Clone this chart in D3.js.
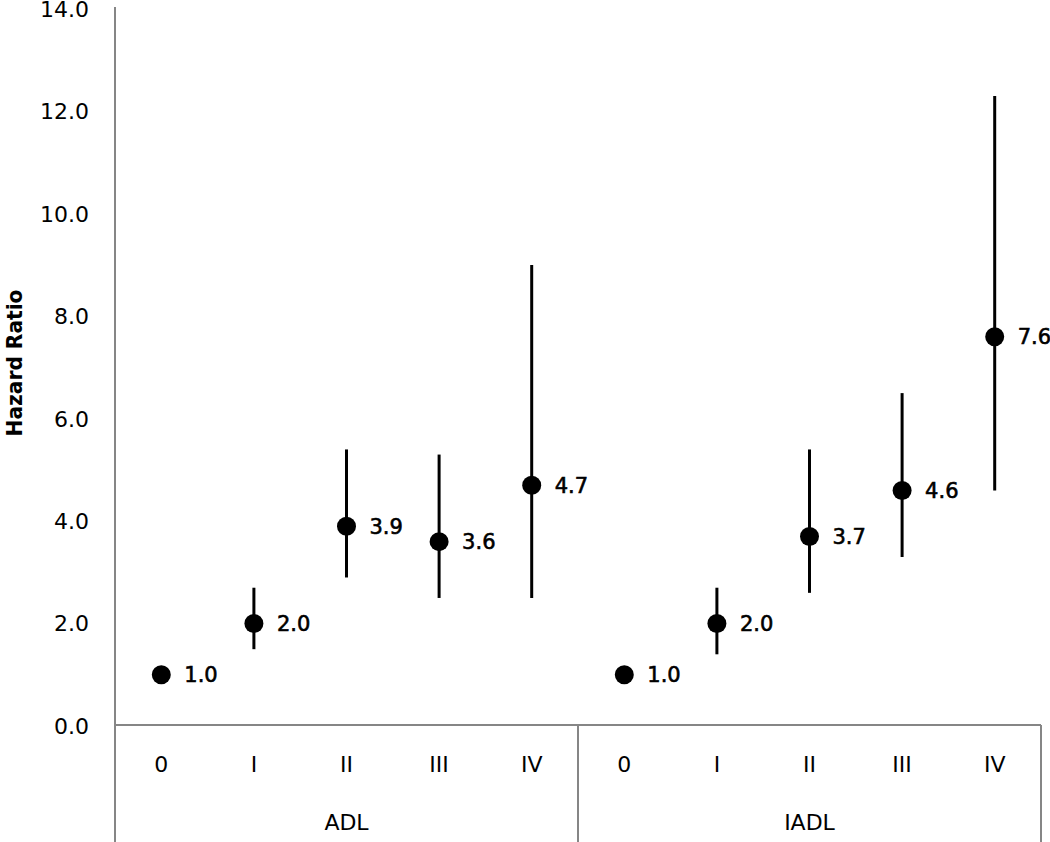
<!DOCTYPE html>
<html>
<head>
<meta charset="utf-8">
<script src="https://cdn.jsdelivr.net/npm/d3@7"></script>
<style>
  body { margin: 0; background: #fff; }
  text { font-family: "DejaVu Sans", Verdana, sans-serif; fill: #000; }
</style>
</head>
<body>
<div id="chart"></div>
<script>
// hazard ratios by stage, with 95% CI
var groups = ["ADL", "IADL"];
var stages = ["0", "I", "II", "III", "IV"];
var adlHR   = [1.0, 2.0, 3.9, 3.6, 4.7];
var adlLow  = [null, 1.5, 2.9, 2.5, 2.5];
var adlHigh = [null, 2.7, 5.4, 5.3, 9.0];
var iadlHR   = [1.0, 2.0, 3.7, 4.6, 7.6];
var iadlLow  = [null, 1.4, 2.6, 3.3, 4.6];
var iadlHigh = [null, 2.7, 5.4, 6.5, 12.3];
var yTicks = [0, 2, 4, 6, 8, 10, 12, 14];

var width = 1050, height = 842;

var svg = d3.select("#chart").append("svg")
    .attr("width", width)
    .attr("height", height);

var left = 115, right = 1041, axisY = 726;

var data = [];
groups.forEach(function(g, gi) {
  var hr = gi == 0 ? adlHR : iadlHR,
      lo = gi == 0 ? adlLow : iadlLow,
      hi = gi == 0 ? adlHigh : iadlHigh;
  stages.forEach(function(s, i) {
    data.push({ key: g + "-" + s, group: g, stage: s, hr: hr[i], lo: lo[i], hi: hi[i] });
  });
});

const xScale = d3.scaleBand().domain(data.map(d => d.key)).range([left, right]);
const gScale = d3.scaleBand().domain(groups).range([left, right]);
const yScale = d3.scaleLinear().domain([0, 14]).range([axisY, 9]);

var axisColor = "#868686";

// y axis line (runs down through the category area)
svg.append("line")
  .attr("x1", left).attr("x2", left)
  .attr("y1", yScale(14) - 2).attr("y2", height)
  .attr("stroke", axisColor).attr("stroke-width", 2);

// x axis line
svg.append("line")
  .attr("x1", left).attr("x2", right)
  .attr("y1", axisY - 1).attr("y2", axisY - 1)
  .attr("stroke", axisColor).attr("stroke-width", 2);

// group separators
svg.selectAll(".sep")
  .data(groups)
  .enter().append("line")
  .attr("class", "sep")
  .attr("x1", d => gScale(d) + gScale.bandwidth())
  .attr("x2", d => gScale(d) + gScale.bandwidth())
  .attr("y1", axisY - 1).attr("y2", height)
  .attr("stroke", axisColor).attr("stroke-width", 2);

// y tick labels
svg.selectAll(".ytick")
  .data(yTicks)
  .enter().append("text")
  .attr("class", "ytick")
  .attr("x", left - 26)
  .attr("y", d => yScale(d))
  .attr("dy", "0.36em")
  .attr("text-anchor", "end")
  .style("font-size", "22px")
  .text(d => d.toFixed(1));

// y title
svg.append("text")
  .attr("transform", "translate(22," + 363 + ") rotate(-90)")
  .attr("text-anchor", "middle")
  .attr("textLength", 147)
  .attr("lengthAdjust", "spacingAndGlyphs")
  .style("font-size", "22px")
  .style("font-weight", "bold")
  .text("Hazard Ratio");

// stage labels
svg.selectAll(".stage")
  .data(data)
  .enter().append("text")
  .attr("class", "stage")
  .attr("x", d => xScale(d.key) + xScale.bandwidth() / 2)
  .attr("y", 764)
  .attr("dy", "0.36em")
  .attr("text-anchor", "middle")
  .style("font-size", "22px")
  .text(d => d.stage);

// group labels
svg.selectAll(".glabel")
  .data(groups)
  .enter().append("text")
  .attr("class", "glabel")
  .attr("x", d => gScale(d) + gScale.bandwidth() / 2)
  .attr("y", 822)
  .attr("dy", "0.36em")
  .attr("text-anchor", "middle")
  .style("font-size", "22px")
  .text(d => d);

var cx = d => xScale(d.key) + xScale.bandwidth() / 2;

// error bars
svg.selectAll(".ci")
  .data(data.filter(d => d.lo != null))
  .enter().append("line")
  .attr("class", "ci")
  .attr("x1", cx).attr("x2", cx)
  .attr("y1", d => yScale(d.lo))
  .attr("y2", d => yScale(d.hi))
  .attr("stroke", "#000").attr("stroke-width", 3);

// points
svg.selectAll(".pt")
  .data(data)
  .enter().append("circle")
  .attr("class", "pt")
  .attr("cx", cx)
  .attr("cy", d => yScale(d.hr))
  .attr("r", 9.5)
  .attr("fill", "#000");

// value labels (medium weight in the original)
svg.selectAll(".val")
  .data(data)
  .enter().append("text")
  .attr("class", "val")
  .attr("x", d => cx(d) + 23)
  .attr("y", d => yScale(d.hr))
  .attr("dy", "0.36em")
  .style("font-size", "21px")
  .style("stroke", "#000")
  .style("stroke-width", "0.6px")
  .text(d => d.hr.toFixed(1));
</script>
</body>
</html>
